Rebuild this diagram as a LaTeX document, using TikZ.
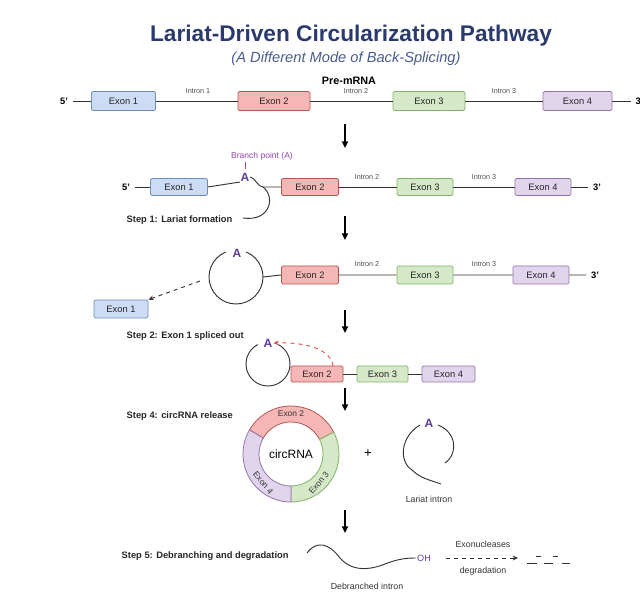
\documentclass[tikz,border=0pt]{standalone}
\usepackage{fontspec}
\setmainfont{Liberation Sans}
\usetikzlibrary{arrows.meta,calc}
\definecolor{titleblue}{HTML}{2B3A6E}
\definecolor{subblue}{HTML}{4A5C8C}
\definecolor{bluefill}{HTML}{CCDCF4}\definecolor{bluedraw}{HTML}{6C8EBF}
\definecolor{redfill}{HTML}{F5B7B5}\definecolor{reddraw}{HTML}{B85450}
\definecolor{greenfill}{HTML}{D5E8C8}\definecolor{greendraw}{HTML}{82B366}
\definecolor{purplefill}{HTML}{E1D5EE}\definecolor{purpledraw}{HTML}{9673A6}
\definecolor{bpurple}{HTML}{5B3A9E}
\definecolor{lpurple}{HTML}{8E44AD}
\definecolor{splicered}{HTML}{D9534F}
\definecolor{strand}{HTML}{333333}
\newcommand\fsz[1]{\fontsize{#1}{#1}\selectfont}
\tikzset{
  exbox/.style={draw, rounded corners=1pt, line width=0.6pt, inner sep=0pt,
    text=black!85, font=\fsz{7}},
  ex1/.style={exbox, fill=bluefill, draw=bluedraw},
  ex2/.style={exbox, fill=redfill, draw=reddraw},
  ex3/.style={exbox, fill=greenfill, draw=greendraw},
  ex4/.style={exbox, fill=purplefill, draw=purpledraw},
  rna/.style={draw=strand, line width=0.7pt},
  intronlbl/.style={font=\fsz{5.4}, text=black!70},
  endlbl/.style={font=\bfseries\fsz{7}},
  steplbl/.style={font=\bfseries\fsz{7}, text=black!85, anchor=west},
  smalllbl/.style={font=\fsz{6.6}, text=black!80},
  branchA/.style={font=\bfseries\fsz{9}, text=bpurple, inner sep=0.5pt},
  flow/.style={draw=black, line width=1.1pt, -{Triangle[length=5pt,width=4.6pt]}},
  tipped/.style={line width=0.7pt, dashed, -{Stealth[length=4pt,width=3.6pt]}},
}
\begin{document}
\begin{tikzpicture}[x=0.75pt,y=0.75pt]
\useasboundingbox (0,0) rectangle (640,-595);

% ---- heading ----
\node[font=\bfseries\fsz{17}, text=titleblue] (title) at (351,-36) {Lariat-Driven Circularization Pathway};
\node[font=\itshape\fsz{11}, text=subblue] (subtitle) at (346,-59) {(A Different Mode of Back-Splicing)};
\node[font=\bfseries\fsz{8.1}] (premrna) at (349,-81) {Pre-mRNA};

% ---- pre-mRNA ----
\node[endlbl] (p5) at (64,-101) {5'};
\node[ex1, minimum width=64*0.75pt, minimum height=19*0.75pt] (pe1) at (123.5,-101) {Exon 1};
\node[ex2, minimum width=72*0.75pt, minimum height=19*0.75pt] (pe2) at (274,-101) {Exon 2};
\node[ex3, minimum width=72*0.75pt, minimum height=19*0.75pt] (pe3) at (429,-101) {Exon 3};
\node[ex4, minimum width=69*0.75pt, minimum height=19*0.75pt] (pe4) at (577.5,-101) {Exon 4};
\node[endlbl, anchor=west] (p3) at (631,-101) {3'};
\draw[rna] (p5) -- (pe1) (pe1) -- (pe2) (pe2) -- (pe3) (pe3) -- (pe4) (pe4) -- (p3);
\node[intronlbl] (pi1) at (198,-91) {Intron 1};
\node[intronlbl] (pi2) at (356,-91) {Intron 2};
\node[intronlbl] (pi3) at (504,-91) {Intron 3};

\coordinate (a1s) at (345,-124); \coordinate (a1e) at (345,-148);
\draw[flow] (a1s) -- (a1e);

% ---- step 1: lariat formation ----
\node[endlbl] (l5) at (126,-187) {5'};
\node[ex1, minimum width=57*0.75pt, minimum height=17*0.75pt] (le1) at (179,-187) {Exon 1};
\node[branchA] (lA) at (245,-177) {A};
\node[font=\fsz{6.4}, text=lpurple] (lbp) at (262,-156) {Branch point (A)};
\coordinate (tickA) at (245,-162); \coordinate (tickB) at (245,-169);
\draw[lpurple, line width=0.5pt] (tickA) -- (tickB);
\coordinate (lj) at (263,-187);
\coordinate (ltail) at (243,-218);
\node[ex2, minimum width=57*0.75pt, minimum height=17*0.75pt] (le2) at (310,-187) {Exon 2};
\node[ex3, minimum width=56*0.75pt, minimum height=17*0.75pt] (le3) at (425,-187) {Exon 3};
\node[ex4, minimum width=56*0.75pt, minimum height=17*0.75pt] (le4) at (543,-187) {Exon 4};
\node[endlbl] (l3) at (597,-187) {3'};
\draw[rna] (l5) -- (le1);
\draw[rna] (le1.east) -- (lA.south west);
\draw[rna] (lA.east) .. controls (257,-180) and (258,-187) .. (lj) -- (le2.west);
\draw[rna] (lj) .. controls (276,-197) and (270,-222) .. (ltail);
\draw[rna] (le2) -- (le3) (le3) -- (le4) (le4) -- (l3);
\node[intronlbl] (li2) at (367,-177) {Intron 2};
\node[intronlbl] (li3) at (484,-177) {Intron 3};
\node[steplbl] (s1) at (122,-220) {Step 1: Lariat formation};

\coordinate (a2s) at (345,-216); \coordinate (a2e) at (345,-240);
\draw[flow] (a2s) -- (a2e);

% ---- exon 1 released ----
\coordinate (c3) at (236,-277);
\node[branchA] (cA) at (237,-253) {A};
\draw[rna] (c3) ++(112:27) arc[start angle=112, end angle=428, radius=27];
\coordinate (c3r) at (263,-277);
\node[ex2, minimum width=57*0.75pt, minimum height=18*0.75pt] (ce2) at (310,-275) {Exon 2};
\node[ex3, minimum width=56*0.75pt, minimum height=18*0.75pt] (ce3) at (425,-275) {Exon 3};
\node[ex4, minimum width=56*0.75pt, minimum height=18*0.75pt] (ce4) at (541,-275) {Exon 4};
\node[endlbl] (c3p) at (595,-275) {3'};
\draw[rna] (c3r) -- (ce2.west) (ce2) -- (ce3) (ce3) -- (ce4) (ce4) -- (c3p);
\node[intronlbl] (ci2) at (367,-264) {Intron 2};
\node[intronlbl] (ci3) at (484,-264) {Intron 3};
\node[ex1, minimum width=54*0.75pt, minimum height=18*0.75pt] (fe1) at (121,-309) {Exon 1};
\coordinate (dashs) at (200,-281);
\draw[tipped, draw=strand] (dashs) -- (fe1.north east);

\coordinate (a3s) at (345,-310); \coordinate (a3e) at (345,-333);
\draw[flow] (a3s) -- (a3e);
\node[steplbl] (s2) at (122,-336) {Step 2: Exon 1 spliced out};

% ---- back-splice ----
\coordinate (c4) at (268,-364);
\node[branchA] (bA) at (268,-343) {A};
\draw[rna] (c4) ++(118:22) arc[start angle=118, end angle=422, radius=22];
\node[ex2, minimum width=52*0.75pt, minimum height=16*0.75pt] (be2) at (317,-374) {Exon 2};
\node[ex3, minimum width=51*0.75pt, minimum height=16*0.75pt] (be3) at (382.5,-374) {Exon 3};
\node[ex4, minimum width=53*0.75pt, minimum height=16*0.75pt] (be4) at (448.5,-374) {Exon 4};
\draw[rna] (be2) -- (be3) (be3) -- (be4);
\coordinate (bss) at (333,-366);
\draw[tipped, draw=splicered]
  (bss) .. controls (331,-350) and (308,-342) .. (bA.east);

\coordinate (a4s) at (345,-388); \coordinate (a4e) at (345,-411);
\draw[flow] (a4s) -- (a4e);
\node[steplbl] (s4) at (122,-416) {Step 4: circRNA release};

% ---- circRNA ring ----
\coordinate (ring) at (291,-454);
\fill[redfill, draw=reddraw, line width=0.6pt] (ring) ++(27:48) arc[start angle=27, end angle=150, radius=48]
  -- ++(150:-16) arc[start angle=150, end angle=27, radius=32] -- cycle;
\fill[greenfill, draw=greendraw, line width=0.6pt] (ring) ++(-90:48) arc[start angle=-90, end angle=27, radius=48]
  -- ++(27:-16) arc[start angle=27, end angle=-90, radius=32] -- cycle;
\fill[purplefill, draw=purpledraw, line width=0.6pt] (ring) ++(150:48) arc[start angle=150, end angle=270, radius=48]
  -- ++(270:-16) arc[start angle=270, end angle=150, radius=32] -- cycle;
\node[font=\fsz{6.3}, text=black!80, inner sep=0pt] (r2) at ($(ring)+(90:40)$) {Exon 2};
\node[font=\fsz{6.3}, text=black!80, inner sep=0pt, rotate=50] (r3) at ($(ring)+(-46:40)$) {Exon 3};
\node[font=\fsz{6.3}, text=black!80, inner sep=0pt, rotate=-50] (r4) at ($(ring)+(226:40)$) {Exon 4};
\node[font=\fsz{9}] (circ) at (ring) {circRNA};
\node[font=\fsz{10}] (plus) at (368,-454) {+};

% ---- free lariat ----
\node[branchA] (iA) at (429,-423) {A};
\coordinate (il1) at (420,-425); \coordinate (il2) at (412,-470); \coordinate (il3) at (441,-484);
\coordinate (ir1) at (438,-425); \coordinate (ir2) at (445,-463);
\draw[rna] (il1) .. controls (401,-436) and (398,-461) .. (il2) .. controls (420,-477) .. (il3);
\draw[rna] (ir1) .. controls (456,-432) and (459,-453) .. (ir2);
\node[smalllbl] (ilbl) at (429,-499) {Lariat intron};

\coordinate (a5s) at (345,-510); \coordinate (a5e) at (345,-533);
\draw[flow] (a5s) -- (a5e);

% ---- debranching ----
\node[steplbl] (s5) at (117,-556) {Step 5: Debranching and degradation};
\coordinate (w0) at (307,-553); \coordinate (w1) at (340,-558); \coordinate (w2) at (385,-564);
\node[font=\fsz{6.8}, text=bpurple, inner sep=1pt] (oh) at (424,-558) {OH};
\draw[rna] (w0) .. controls (316,-541) and (328,-542) .. (w1) .. controls (352,-572) and (370,-570) .. (w2)
  .. controls (398,-559) and (406,-558) .. (oh.west);
\coordinate (ds) at (446,-558); \coordinate (de) at (518,-558);
\draw[tipped, draw=strand] (ds) -- (de);
\node[smalllbl] (exo) at (483,-544) {Exonucleases};
\node[smalllbl] (deg) at (483,-571) {degradation};
\foreach \xa/\xb/\yy [count=\k] in {527/537/563, 536/541/556, 544/553/563, 553/558/556, 562/570/563}{
  \coordinate (fa\k) at (\xa,-\yy); \coordinate (fb\k) at (\xb,-\yy);
  \draw[rna] (fa\k) -- (fb\k);
}
\node[smalllbl] (dlbl) at (367,-586) {Debranched intron};
\end{tikzpicture}
\end{document}
